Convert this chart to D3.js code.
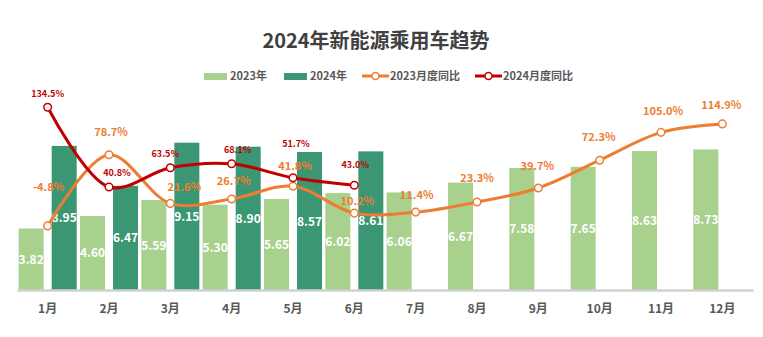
<!DOCTYPE html>
<html><head><meta charset="utf-8">
<script src="https://cdn.jsdelivr.net/npm/d3@7"></script>
<style>body{margin:0;background:#fff}svg{display:block}</style>
</head><body>
<svg id="c" width="763" height="337"></svg>
<script>
const months = ["1月","2月","3月","4月","5月","6月","7月","8月","9月","10月","11月","12月"];
const sales2023 = [3.82,4.60,5.59,5.30,5.65,6.02,6.06,6.67,7.58,7.65,8.63,8.73];
const sales2024 = [8.95,6.47,9.15,8.90,8.57,8.61];
const yoy2023 = [-4.8,78.7,21.6,26.7,41.8,10.2,11.4,23.3,39.7,72.3,105.0,114.9];
const yoy2024 = [134.5,40.8,63.5,68.1,51.7,43.0];
const seriesNames = ["2023年","2024年","2023月度同比","2024月度同比"];
const title = "2024年新能源乘用车趋势";

// label placement tweaks (layout only)
const lab23dx = [1,2,14,2,2,3,1,0,-1,-1,2,-1];
const lab23dy = [-39,-23,-16,-18,-20,-12,-17,-24,-22,-23,-21,-19];
const lab24dx = [0,8,-5,6,3,1];
const lab24dy = [-14,-15,-14,-14,-34,-21];

const C23 = "#A9D18E", C24 = "#3A9673", L23 = "#ED7D31", L24 = "#C00000";
const FONT = "'Noto Sans CJK SC','Noto Sans',sans-serif";
const svg = d3.select("#c").style("font-family", FONT);

const x = d3.scaleBand().domain(months).range([17,753]).padding(0);
const x1 = d3.scaleBand().domain(["2023","2024"]).range([0,x.bandwidth()]).paddingInner(0.243).paddingOuter(0.05);
const yBar = d3.scaleLinear().domain([0,10]).range([290,129]);
const yLine = d3.scaleLinear().domain([-80,150]).range([290,94]);

// title
svg.append("text").attr("x",376).attr("y",48).attr("text-anchor","middle")
  .attr("font-size",20).attr("font-weight","bold").attr("fill","#404040").text(title);

// legend
const leg = svg.append("g").attr("font-size",11).attr("font-weight","bold").attr("fill","#595959");
const legItems = [{x:204,type:"bar",c:C23},{x:284,type:"bar",c:C24},{x:362,type:"line",c:L23},{x:475,type:"line",c:L24}];
legItems.forEach((d,i)=>{
  const g = leg.append("g");
  if (d.type==="bar") {
    g.append("rect").attr("x",d.x).attr("y",73).attr("width",23).attr("height",7).attr("fill",d.c);
    g.append("text").attr("x",d.x+26).attr("y",80).attr("fill","#595959").text(seriesNames[i]);
  } else {
    g.append("line").attr("x1",d.x).attr("x2",d.x+27).attr("y1",76).attr("y2",76).attr("stroke",d.c).attr("stroke-width",3);
    g.append("circle").attr("cx",d.x+13.5).attr("cy",76).attr("r",3.5).attr("fill","#fff").attr("stroke",d.c).attr("stroke-width",1.5);
    g.append("text").attr("x",d.x+28).attr("y",80).attr("fill","#595959").text(seriesNames[i]);
  }
});

// bars
const bars23 = months.map((m,i)=>({m,v:sales2023[i],k:"2023"}));
const bars24 = sales2024.map((v,i)=>({m:months[i],v,k:"2024"}));
const allBars = bars23.concat(bars24);
svg.append("g").selectAll("rect").data(allBars).join("rect")
  .attr("x",d=>x(d.m)+x1(d.k)).attr("width",x1.bandwidth())
  .attr("y",d=>yBar(d.v)).attr("height",d=>yBar(0)-yBar(d.v))
  .attr("fill",d=>d.k==="2023"?C23:C24);
svg.append("g").selectAll("text").data(allBars).join("text")
  .attr("x",d=>x(d.m)+x1(d.k)+x1.bandwidth()/2)
  .attr("y",d=>(yBar(d.v)+yBar(0))/2+4.5)
  .attr("text-anchor","middle").attr("font-size",12).attr("font-weight","bold").attr("fill","#fff")
  .text(d=>d.v.toFixed(2));

// axis
const xAxis = d3.axisBottom(x).tickSize(0).tickPadding(14);
const ax = svg.append("g").attr("transform","translate(0,290)").call(xAxis);
ax.select(".domain").attr("stroke","#D0D0D0").attr("stroke-width",2.5);
ax.selectAll("text").attr("font-size",12).attr("font-weight","bold").attr("fill","#595959").attr("font-family",FONT);

// lines
const cx = m => x(m)+x.bandwidth()/2;
const line = d3.line().x(d=>cx(d.m)).y(d=>yLine(d.v)).curve(d3.curveCatmullRom.alpha(0.5));
const p23 = months.map((m,i)=>({m,v:yoy2023[i],i}));
const p24 = yoy2024.map((v,i)=>({m:months[i],v,i}));
[[p23,L23],[p24,L24]].forEach(([pts,c])=>{
  svg.append("path").datum(pts).attr("d",line).attr("fill","none").attr("stroke",c).attr("stroke-width",3).attr("stroke-linecap","round");
  svg.append("g").selectAll("circle").data(pts).join("circle")
    .attr("cx",d=>cx(d.m)).attr("cy",d=>yLine(d.v)).attr("r",3.8)
    .attr("fill","#fff").attr("stroke",c).attr("stroke-width",1.5);
});
svg.append("g").selectAll("text").data(p23).join("text")
  .attr("x",d=>cx(d.m)+lab23dx[d.i]).attr("y",d=>yLine(d.v)+lab23dy[d.i]+4)
  .attr("text-anchor","middle").attr("font-size",11).attr("font-weight","bold").attr("fill",L23)
  .text(d=>d.v.toFixed(1)+"%");
svg.append("g").selectAll("text").data(p24).join("text")
  .attr("x",d=>cx(d.m)+lab24dx[d.i]).attr("y",d=>yLine(d.v)+lab24dy[d.i]+3.5)
  .attr("text-anchor","middle").attr("font-size",9).attr("font-weight","bold").attr("fill",L24)
  .text(d=>d.v.toFixed(1)+"%");
</script>
</body></html>
